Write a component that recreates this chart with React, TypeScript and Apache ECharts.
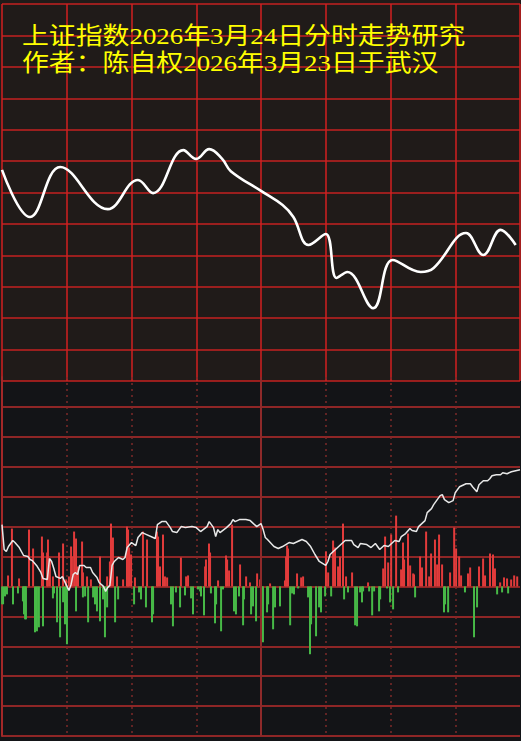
import React, { useEffect, useRef } from "react";
import * as echarts from "echarts";

const titleLines = ["上证指数2026年3月24日分时走势研究", "作者：陈自权2026年3月23日于武汉"];

// upper panel: forecast curve (minute of session, index level)
const topMinutes = [0, 13, 27, 49, 63, 70, 84, 90, 96, 102, 106, 120, 130, 135, 142, 150, 155, 160, 172, 181, 194, 200, 215, 223, 231, 238];
const topIndex = [3907.2, 3892.2, 3908.1, 3894.7, 3904.0, 3899.8, 3913.5, 3910.7, 3913.8, 3910.7, 3906.8, 3900.5, 3896.0, 3892.2, 3883.3, 3886.8, 3872.8, 3874.7, 3863.2, 3878.5, 3874.7, 3876.0, 3887.1, 3880.1, 3888.1, 3883.3];

// lower panel: buy volume bars (red, up)
const redMin = [2.8, 4.6, 7.9, 12.5, 14.4, 18.5, 19.0, 20.9, 21.3, 22.2, 23.6, 26.4, 28.3, 29.7, 31.0, 32.0, 32.4, 33.4, 34.3, 35.2, 37.1, 37.5, 39.4, 41.2, 45.4, 48.7, 50.0, 50.5, 51.4, 53.3, 56.1, 57.9, 58.4, 58.9, 59.8, 61.6, 65.3, 67.2, 71.8, 72.3, 73.2, 74.6, 75.5, 76.5,
  82.9, 85.3, 86.2, 94.1, 94.5, 95.9, 96.4, 100.1, 103.8, 104.3, 105.2, 106.6, 110.3, 113.1, 114.9, 118.2, 119.6, 120.0, 124.2, 131.1, 131.6, 132.1, 132.5, 136.7, 138.6, 139.5, 150.1, 151.1, 153.4, 154.3, 155.7, 156.6, 158.0, 159.4,
  162.2, 169.6, 176.6, 177.5, 178.9, 180.3, 182.6, 184.9, 185.8, 186.3, 188.1, 189.1, 190.5, 190.9, 193.7, 194.6, 196.5, 197.9, 198.8, 200.6, 201.6, 202.5, 203.9, 207.6, 209.5, 210.4, 211.8, 212.7, 215.9, 216.9, 221.0, 222.9, 223.8, 226.1, 227.5, 228.4, 230.8, 232.6, 234.0, 235.9, 237.3, 238.7];
const redVol = [11, 58, 8, 57, 38, 50, 34, 34, 47, 27, 10, 34, 43, 7, 10, 40, 30, 55, 48, 20, 45, 14, 10, 7, 30, 10, 25, 63, 49, 10, 7, 60, 57, 39, 32, 9, 55, 47, 55, 50, 20, 52, 10, 9,
  29, 10, 11, 20, 27, 43, 34, 6, 31, 27, 16, 62, 22, 10, 4, 13, 7, 7, 3, 6, 30, 41, 38, 13, 9, 10, 35, 14, 46, 39, 20, 30, 63, 10,
  14, 4, 18, 50, 24, 52, 71, 17, 44, 27, 53, 21, 13, 12, 30, 19, 55, 10, 33, 47, 22, 52, 22, 14, 59, 38, 30, 11, 13, 19, 20, 28, 11, 33, 32, 18, 4, 9, 8, 7, 11, 10];

// lower panel: sell volume bars (green, down)
const greenMin = [0.0, 0.5, 1.4, 2.3, 5.1, 7.4, 9.7, 10.2, 10.7, 11.1, 15.3, 16.2, 17.1, 19.0, 23.6, 24.1, 25.5, 26.9, 28.3, 29.2, 30.1, 34.3, 37.5, 38.5, 39.9, 42.2, 43.1, 44.0, 45.4, 46.8, 47.7, 48.7, 52.4, 53.8, 61.2, 63.5, 64.4, 66.7, 69.5, 70.0, 78.3, 79.2,
  80.6, 82.5, 84.8, 87.6, 88.5, 90.8, 91.8, 92.2, 93.6, 96.8, 98.7, 99.2, 101.5, 102.4, 107.5, 108.4, 109.8, 111.7, 112.1, 115.4, 116.3, 117.7, 120.5, 120.9, 122.8, 123.3, 125.6, 126.5, 128.8, 133.5, 134.4, 135.3, 137.2, 141.8, 142.7, 143.2, 145.5, 146.9, 147.8, 149.7, 152.5, 158.5,
  160.3, 163.6, 164.5, 165.9, 166.8, 167.3, 170.1, 171.5, 172.4, 174.7, 175.2, 178.4, 179.8, 181.2, 183.5, 191.4, 204.8, 205.3, 206.7, 214.5, 218.7, 220.1, 229.4, 231.7, 234.5];
const greenVol = [18, 18, 10, 8, 18, 7, 15, 28, 33, 33, 46, 45, 41, 40, 12, 7, 36, 51, 16, 38, 58, 25, 11, 10, 36, 11, 18, 25, 35, 13, 51, 21, 36, 13, 18, 6, 13, 21, 36, 28, 18, 40,
  6, 21, 9, 12, 28, 3, 5, 10, 29, 7, 37, 18, 45, 3, 25, 28, 10, 39, 13, 28, 20, 35, 15, 56, 26, 18, 43, 21, 20, 39, 7, 8, 2, 11, 68, 38, 50, 21, 26, 10, 10, 13,
  6, 39, 40, 6, 16, 5, 5, 29, 5, 25, 13, 2, 16, 23, 6, 11, 26, 18, 26, 6, 51, 21, 8, 6, 7];

// lower panel: cumulative flow line
const flowMin = [0, 1, 2, 3, 5, 6, 8, 10, 12, 13, 14, 16, 18, 19, 21, 22, 23, 24, 25, 27, 28, 29, 31, 32, 33, 34, 35, 36, 38, 39, 41, 42, 44, 45, 47, 48, 49, 50, 51, 52, 54, 56, 57, 58, 60, 62, 63, 65, 67, 70, 71, 72, 74, 76, 78, 79, 81, 83, 85, 88, 90, 92, 95, 96, 98, 99, 100, 101, 104, 106, 107, 108, 110, 113, 115, 116, 118, 120, 121, 122, 123, 126, 128, 130, 133, 135, 137, 139, 141, 143, 145, 147, 150, 151, 152, 155, 157, 159, 162, 163, 165, 166, 169, 171, 173, 175, 177, 179, 180, 182, 184, 185, 187, 189, 190, 192, 193, 195, 196, 197, 199, 200, 202, 203, 204, 205, 207, 209, 210, 212, 214, 215, 217, 218, 220, 221, 223, 225, 226, 227, 229, 231, 232, 234, 236, 238, 240];
const flowVal = [62, 37, 35, 40, 46, 44, 39, 31, 30, 27, 26, 21, 14, 8, 7, 28, 25, 18, 10, 8, 10, 5, -4, 2, 12, 14, 12, 21, 21, 19, 19, 14, 9, 4, 0, -5, -1, 1, 21, 25, 29, 27, 29, 39, 44, 41, 49, 54, 52, 49, 48, 62, 65, 65, 59, 55, 54, 60, 59, 60, 59, 55, 60, 65, 59, 50, 57, 54, 59, 63, 67, 65, 67, 67, 66, 64, 60, 63, 57, 49, 47, 40, 38, 40, 44, 43, 45, 47, 45, 40, 32, 25, 21, 25, 32, 38, 42, 46, 46, 42, 39, 43, 42, 39, 43, 37, 41, 40, 42, 46, 45, 50, 53, 58, 56, 55, 60, 64, 66, 74, 78, 82, 88, 91, 92, 87, 84, 86, 94, 100, 102, 103, 103, 100, 95, 102, 106, 106, 108, 111, 112, 112, 114, 113, 115, 116, 117];

const RED = "#e23b3b";
const GREEN = "#47b947";

export default function App() {
  const ref = useRef<HTMLDivElement>(null);
  useEffect(() => {
    const chart = echarts.init(ref.current!, null, { renderer: "svg" });
    const bars = [
      ...redMin.map((m, i) => [m, redVol[i]]),
      ...greenMin.map((m, i) => [m, -greenVol[i]]),
    ];
    const hidden = { axisLabel: { show: false }, axisTick: { show: false }, axisLine: { show: false } };
    chart.setOption({
      animation: false,
      backgroundColor: "#131417",
      graphic: [
        { type: "rect", z: -10, silent: true, shape: { x: 0, y: 0, width: 521, height: 381 }, style: { fill: "#201b19" } },
        ...titleLines.map((t, i) => ({
          type: "text",
          z: 100,
          silent: true,
          x: 22,
          y: 36 + i * 27,
          scaleX: 1.12,
          style: {
            text: t,
            x: 0,
            y: 0,
            verticalAlign: "middle",
            fill: "#ffff00",
            font: '24px "Liberation Serif", "Noto Sans CJK SC"',
          },
        })),
      ],
      grid: [
        { left: 2, top: 4, width: 518, height: 377 },
        { left: 2, top: 377, width: 518, height: 359 },
      ],
      xAxis: [
        {
          type: "value", gridIndex: 0, min: 0, max: 240, interval: 30, ...hidden,
          splitLine: { show: true, lineStyle: { color: "#d22020", width: 1.5 } },
        },
        {
          type: "value", gridIndex: 1, min: 0, max: 240, interval: 30, ...hidden,
          splitLine: { show: true, showMinLine: false, showMaxLine: false, lineStyle: { color: "#7e2a2a", width: 1.5, type: [2, 4] } },
        },
      ],
      yAxis: [
        {
          type: "value", gridIndex: 0, min: 3840, max: 3960, interval: 10, ...hidden,
          splitLine: { show: true, lineStyle: { color: "#c42220", width: 1.5 } },
        },
        {
          type: "value", gridIndex: 1, min: -150, max: 210, interval: 30,
          axisLabel: { show: false }, axisTick: { show: false },
          axisLine: { show: true, lineStyle: { color: "#a32828", width: 2 } },
          splitLine: { show: true, showMaxLine: false, lineStyle: { color: "#8e2626", width: 2 } },
        },
      ],
      series: [
        {
          type: "line", xAxisIndex: 0, yAxisIndex: 0, smooth: 0.4, symbol: "none", z: 10,
          data: topMinutes.map((m, i) => [m, topIndex[i]]),
          lineStyle: { color: "#ffffff", width: 2.6 },
        },
        {
          type: "bar", xAxisIndex: 1, yAxisIndex: 1, barWidth: 2,
          data: bars,
          itemStyle: { color: (p: any) => (p.value[1] >= 0 ? RED : GREEN) },
          markLine: {
            silent: true, symbol: "none", label: { show: false },
            lineStyle: { color: "#8e2a2a", width: 2, type: "solid" },
            data: [{ xAxis: 120 }],
          },
        },
        {
          type: "line", xAxisIndex: 1, yAxisIndex: 1, symbol: "none",
          data: flowMin.map((m, i) => [m, flowVal[i]]),
          lineStyle: { color: "#e8e8e8", width: 1.5 },
          z: 5,
        },
      ],
    });
    return () => chart.dispose();
  }, []);
  return <div ref={ref} style={{ position: "fixed", left: 0, top: 0, width: 521, height: 741 }} />;
}
